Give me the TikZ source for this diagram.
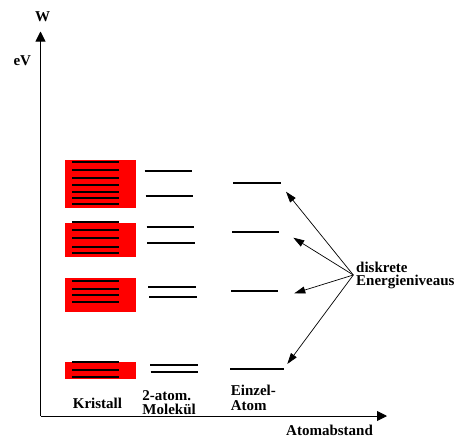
\documentclass[tikz,border=0pt]{standalone}
\usepackage{fontspec}
\setmainfont{Liberation Serif}
\usetikzlibrary{arrows.meta}
\begin{document}
\begin{tikzpicture}[x=1pt,y=-1pt,
  lbl/.style={font=\bfseries\fontsize{15}{14}\selectfont, inner sep=0pt, anchor=base west},
  lbltwo/.style={inner sep=0pt, anchor=base west, align=left},
  lvl/.style={line width=1.8pt},
  axis/.style={line width=0.9pt,-{Triangle[length=10pt,width=10pt]}},
  ptr/.style={line width=0.7pt,-{Triangle[length=11pt,width=7pt]}},
  band/.style={fill=red, draw=none}]
\useasboundingbox (0,0) rectangle (459,440);
% axes
\coordinate (O) at (40.5,416);
\coordinate (ytop) at (40.5,31.5);
\coordinate (xend) at (387,416);
\draw[axis] (O) -- (ytop);
\draw[axis] (O) -- (xend);
% axis labels
\node[lbl, anchor=base] (W) at (42.5,21.7) {W};
\node[lbl] (eV) at (13.3,65) {eV};
\node[lbl] (abst) at (286,435.7) {Atomabstand};
% crystal bands
\fill[band] (65,160) rectangle (136,208);
\fill[band] (65,222.7) rectangle (136,256.7);
\fill[band] (65,278) rectangle (136,311.7);
\fill[band] (65,362) rectangle (136,379.3);
\foreach \y in {162.3,170,177.7,184.7,192.3,198.3,204,
                222.3,230.3,238.3,246.7,252.7,
                280.7,288.7,295,302,
                361.7,369.7,377.3}
  \draw[lvl] (72,\y) -- (119,\y);
% molecule levels
\draw[lvl] (144.7,170.7) -- (191.7,170.7);
\draw[lvl] (145.7,196) -- (193,196);
\draw[lvl] (146.7,227.3) -- (194,227.3);
\draw[lvl] (147.3,242.7) -- (195,242.7);
\draw[lvl] (148.3,286.7) -- (195.7,286.7);
\draw[lvl] (149,297) -- (197,297);
\draw[lvl] (150,365.3) -- (197.7,365.3);
\draw[lvl] (150.7,371.7) -- (197.7,371.7);
% atom levels
\draw[lvl] (233.3,182.7) -- (280.7,182.7);
\draw[lvl] (232,231.7) -- (279,231.7);
\draw[lvl] (231,290.7) -- (278,290.7);
\draw[lvl] (230,369.3) -- (284,369.3);
% column labels
\node[lbl] (kristall) at (72.7,408.3) {Kristall};
\node[lbltwo, font=\bfseries\fontsize{15}{13.4}\selectfont] (mol) at (142.3,414.1) {2-atom.\\Molekül};
\node[lbltwo, font=\bfseries\fontsize{15}{15.7}\selectfont] (ein) at (230.7,410.7) {Einzel-\\Atom};
% discrete levels label and pointers
\node[lbltwo, font=\bfseries\fontsize{15}{13.4}\selectfont] (disk) at (356,285.7) {diskrete\\Energieniveaus};
\coordinate (src) at (353.3,275);
\coordinate (t1) at (286,191.7);
\coordinate (t2) at (293.3,237.7);
\coordinate (t3) at (294.3,293.3);
\coordinate (t4) at (287.3,364);
\foreach \t in {t1,t2,t3,t4}
  \draw[ptr] (src) -- (\t);
\end{tikzpicture}
\end{document}
